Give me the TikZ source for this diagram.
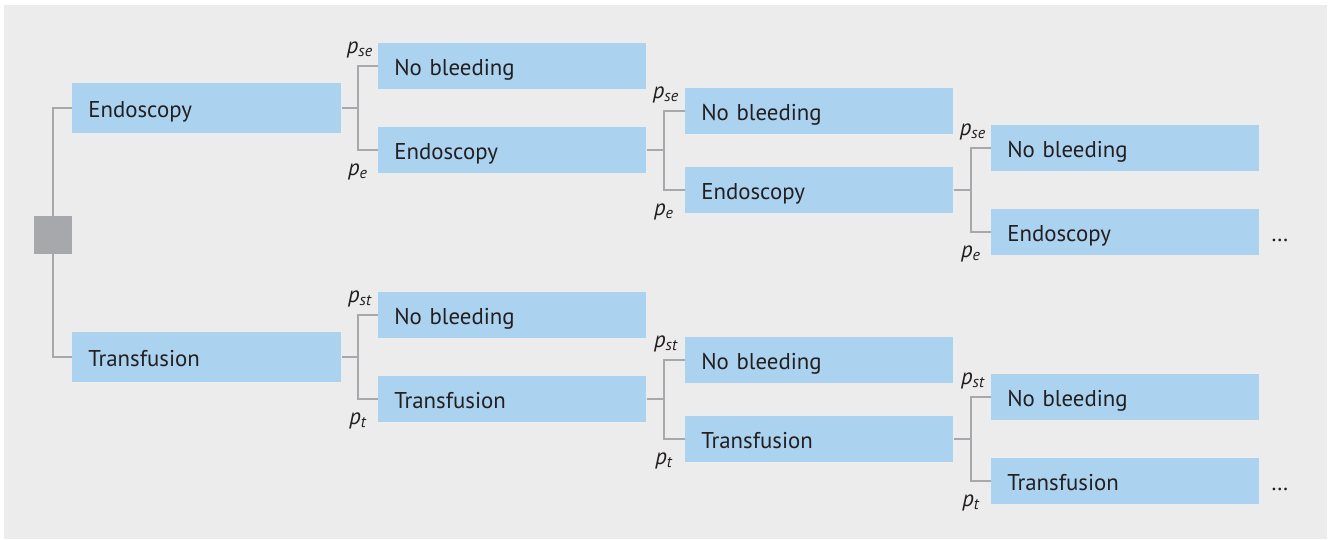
\documentclass[tikz,border=0pt]{standalone}
\usepackage{fontspec}
\setmainfont{PT Sans}
\usetikzlibrary{positioning}

\definecolor{panelgray}{HTML}{EBECEB}
\definecolor{boxblue}{HTML}{ABD3F0}
\definecolor{linegray}{HTML}{A7A8AB}
\definecolor{textdark}{HTML}{231F20}

\begin{document}
\begin{tikzpicture}[
    x=0.02cm, y=-0.02cm,
    % Define box and line styles
    link/.style={draw=linegray, line width=0.9pt},
    choice/.style={fill=boxblue, anchor=west, text=textdark, text width=4.74cm,
        inner xsep=0.32cm, inner ysep=0pt, minimum height=1cm, align=left,
        text height=0.38cm, text depth=0cm,
        font=\fontsize{13}{15}\selectfont},
    outcome/.style={choice, text width=4.72cm, minimum height=0.92cm},
    prob/.style={inner sep=0pt, text=textdark, font=\fontsize{13}{15}\selectfont\itshape}
]

% Background panel
\useasboundingbox (0,0) rectangle (1330,539);
\fill[panelgray] (4,5) rectangle (1327,539);

% Decision node
\node[fill=linegray, minimum size=0.76cm, inner sep=0pt] (dec) at (53,235) {};

% The two strategies
\node[choice] (e1) at (72,108) {Endoscopy};
\node[choice] (t1) at (72,357) {Transfusion};
\draw[link] (dec.north) |- (e1.west);
\draw[link] (dec.south) |- (t1.west);

% Chance branches, repeated for each strategy
\foreach \s/\lab/\dy in {e/Endoscopy/0, t/Transfusion/249} {
    \foreach \lv/\bx/\jx/\yup/\yn/\ye/\up in {2/378/358/108/66/150/1,
                                              3/685/664/150/111/190/2e,
                                              4/991/971/190/148/232/3e} {
        \node[outcome] (\s\lv n) at (\bx,\yn+\dy) {No bleeding};
        \node[outcome] (\s\lv e) at (\bx,\ye+\dy) {\lab};
        \coordinate (\s\lv j) at (\jx,\yup+\dy);
        \draw[link] (\s\up.east) -- (\s\lv j);
        \draw[link] (\s\lv n.west) -| (\s\lv j) |- (\s\lv e.west);
        % Probabilities
        \node[prob, anchor=base] (\s\lv ps) at (\jx+2,\yn+\dy-13) {p\textsubscript{s\s}};
        \node[prob, anchor=base] (\s\lv pe) at (\jx,\ye+\dy+25) {p\textsubscript{\s}};
    }
    % Tree continues
    \node[anchor=base west, inner sep=0pt, text=textdark, font=\fontsize{13}{15}\selectfont]
        (\s dots) at ([xshift=0.22cm]\s4e.base east) {\ldots};
}

\end{tikzpicture}
\end{document}
